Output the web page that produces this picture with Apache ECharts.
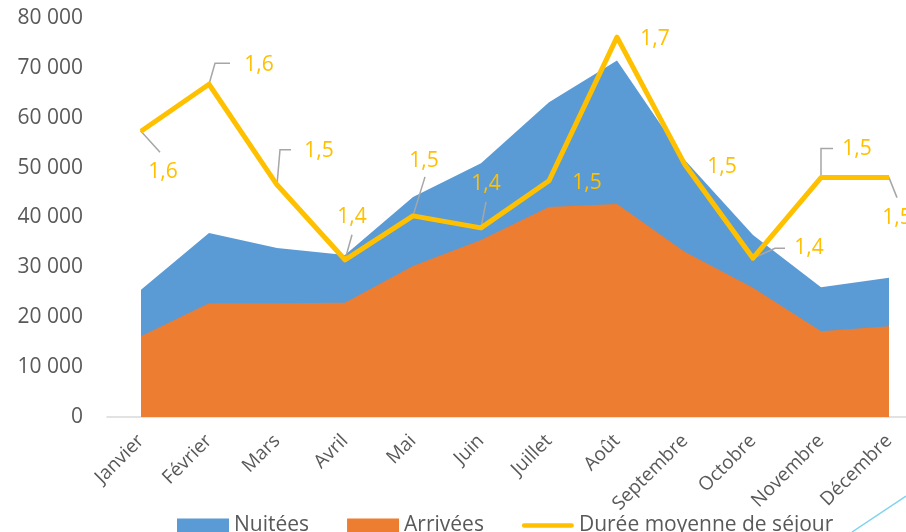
<!DOCTYPE html>
<html>
<head>
<meta charset="utf-8">
<script src="https://cdn.jsdelivr.net/npm/echarts@6/dist/echarts.min.js"></script>
<style>
html,body{margin:0;padding:0;background:#fff;}
#c{width:906px;height:532px;}
</style>
</head>
<body>
<div id="c"></div>
<script>
// ---- data ----
var months = ['Janvier','Février','Mars','Avril','Mai','Juin','Juillet','Août','Septembre','Octobre','Novembre','Décembre'];
var nuitees = [25500, 36900, 33900, 32500, 44100, 50900, 63100, 71500, 51500, 36500, 26000, 27900];
var arrivees = [16200, 22800, 22800, 22900, 30300, 35500, 42100, 42700, 33100, 25900, 17200, 18200];
var duree = [1.558, 1.617, 1.491, 1.397, 1.452, 1.437, 1.496, 1.676, 1.516, 1.399, 1.50, 1.50];
var yTicks = [0, 10000, 20000, 30000, 40000, 50000, 60000, 70000, 80000];

// ---- label placement (layout only) ----
var labelOffsets = [[22,41],[50,-19],[42,-34],[7,-43],[11,-55],[5,-44],[38,2],[38,2],[37,2],[56,-10],[36,-29],[8,40]];
var leaders = [
  [[0,0],[19,21]],
  [[0,0],[6,-21],[21,-21]],
  [[0,0],[3,-35],[14,-35]],
  [[0,0],[7,-25]],
  [[0,0],[12,-39]],
  [[0,0],[5,-26]],
  null, null, null,
  [[0,0],[22,-10],[32,-10]],
  [[0,0],[0,-29],[12,-29]],
  [[0,0],[8,20]]
];

var FONT = '"Open Sans", "Noto Sans", sans-serif';
var GRAY = '#595959';
function fmtThousands(v){ return String(v).replace(/\B(?=(\d{3})+(?!\d))/g, ' '); }

var chart = echarts.init(document.getElementById('c'), null, {renderer:'canvas'});
var option = {
  animation: false,
  backgroundColor: '#ffffff',
  textStyle: {fontFamily: FONT},
  grid: {left: 107, right: -17, top: 18, bottom: 115, containLabel: false, outerBoundsMode: 'none'},
  legend: {
    left: 177, top: 515, padding: 0,
    itemWidth: 52, itemHeight: 14, itemGap: 38,
    textStyle: {color: GRAY, fontSize: 21, fontFamily: FONT},
    data: [
      {name: 'Nuitées', icon: 'rect'},
      {name: 'Arrivées', icon: 'rect'},
      {name: 'Durée moyenne de séjour', icon: 'path://M2.5,0 L53.5,0 A2.5,2.5 0 0 1 53.5,5 L2.5,5 A2.5,2.5 0 0 1 2.5,0 Z'}
    ],
    selectedMode: false
  },
  xAxis: {
    type: 'category',
    data: months,
    boundaryGap: true,
    axisTick: {show: false},
    axisLine: {show: true, lineStyle: {color: '#d9d9d9', width: 1.5}},
    splitLine: {show: false},
    axisLabel: {rotate: 45, margin: 21, color: GRAY, fontSize: 19, fontFamily: FONT, interval: 0}
  },
  yAxis: [
    {
      type: 'value', min: yTicks[0], max: yTicks[yTicks.length-1], interval: 10000,
      axisLine: {show: false}, axisTick: {show: false}, splitLine: {show: false},
      axisLabel: {color: GRAY, fontSize: 21, fontFamily: FONT, margin: 24, formatter: fmtThousands}
    },
    {
      type: 'value', min: 1.2, max: 1.7, show: false, splitLine: {show: false}
    }
  ],
  series: [
    {
      name: 'Nuitées', type: 'line', data: nuitees,
      symbol: 'none', lineStyle: {width: 0}, itemStyle: {color: '#5B9BD5'},
      areaStyle: {color: '#5B9BD5', opacity: 1}, z: 2, emphasis: {disabled: true}
    },
    {
      name: 'Arrivées', type: 'line', data: arrivees,
      symbol: 'none', lineStyle: {width: 0}, itemStyle: {color: '#ED7D31'},
      areaStyle: {color: '#ED7D31', opacity: 1}, z: 2, emphasis: {disabled: true}
    },
    {
      name: 'leaders', type: 'custom', yAxisIndex: 1, z: 3, silent: true,
      data: duree.map(function(v, i){ return [i, v]; }),
      encode: {x: 0, y: 1},
      renderItem: function(params, api){
        var i = api.value(0);
        var pts = leaders[i];
        if (!pts) return {type: 'group', children: []};
        var p = api.coord([i, api.value(1)]);
        return {
          type: 'polyline',
          shape: {points: pts.map(function(d){ return [p[0]+d[0], p[1]+d[1]]; })},
          style: {stroke: '#A6A6A6', lineWidth: 1.5, fill: null}
        };
      }
    },
    {
      name: 'Durée moyenne de séjour', type: 'line', yAxisIndex: 1,
      data: duree.map(function(v, i){ return {value: v, label: {offset: labelOffsets[i]}}; }),
      symbol: 'circle', symbolSize: 2, showSymbol: true,
      itemStyle: {color: '#FFC000'},
      lineStyle: {color: '#FFC000', width: 5, join: 'round'},
      z: 4, emphasis: {disabled: true},
      label: {
        show: true, position: 'inside', color: '#FFC000', fontSize: 21, fontFamily: FONT,
        formatter: function(p){ return p.value.toFixed(1).replace('.', ','); }
      }
    }
  ],
  graphic: [
    {type: 'line', shape: {x1: 852, y1: 532, x2: 906, y2: 496}, style: {stroke: '#7FD3F2', lineWidth: 1.5}, silent: true}
  ]
};
chart.setOption(option);
</script>
</body>
</html>
